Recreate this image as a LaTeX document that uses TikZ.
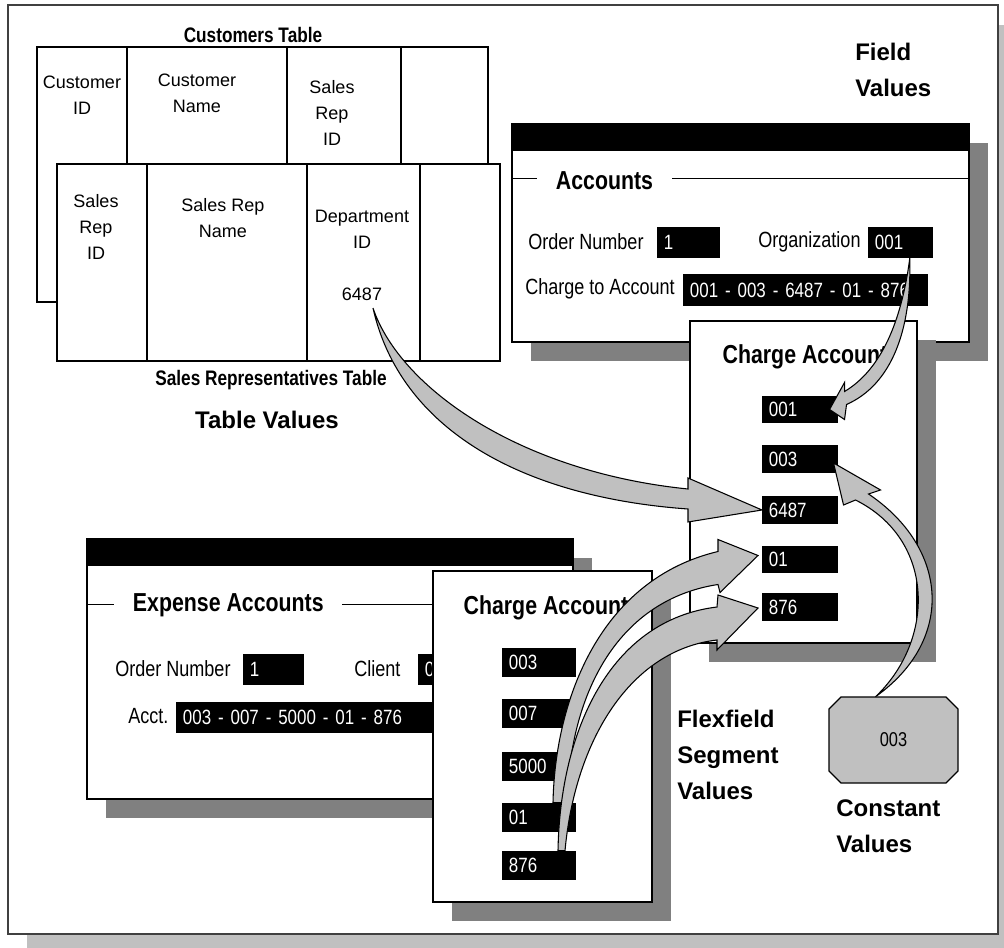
\documentclass[tikz,border=0pt]{standalone}
\usepackage{fontspec}
\setmainfont{Liberation Sans}
\newfontfamily\narrowfont{Liberation Sans}[FakeStretch=0.82]
\usepackage{tikz}
\usetikzlibrary{positioning, calc}
\definecolor{paneshadow}{RGB}{128,128,128}
\definecolor{arrowgray}{RGB}{192,192,192}
\definecolor{frameshadow}{RGB}{192,192,192}
\definecolor{framegray}{RGB}{64,64,64}

\begin{document}
\begin{tikzpicture}[x=0.75pt, y=-0.75pt, line join=miter]
  \tikzset{
    cell/.style={align=center, font=\fontsize{13.5}{19.5}\selectfont},
    tabtitle/.style={font=\narrowfont\bfseries\fontsize{15.75}{19}\selectfont},
    biglabel/.style={align=left, anchor=west, inner sep=0pt,
      font=\bfseries\fontsize{18}{27}\selectfont},
    formtext/.style={anchor=west, inner sep=0pt, font=\narrowfont\fontsize{16.5}{20}\selectfont},
    wintitle/.style={font=\narrowfont\bfseries\fontsize{19.5}{23}\selectfont},
    grouplabel/.style={wintitle, fill=white, inner xsep=14pt, anchor=west},
    fieldbox/.style={fill=black, text=white, anchor=west, align=left,
      inner xsep=5pt, inner ysep=0pt, font=\narrowfont\fontsize{15.5}{19}\selectfont},
    pane/.style={fill=white, draw=black, line width=0.9pt},
    paneshade/.style={fill=paneshadow},
    tabline/.style={draw=black, line width=1pt},
    blockarrow/.style={fill=arrowgray, draw=black, line width=0.8pt}
  }
  \useasboundingbox (0,0) rectangle (1004,948);
  % frame with its shadow
  \fill[frameshadow] (27,25) rectangle (1004,948);
  \draw[draw=framegray, fill=white, line width=1.5pt] (8,5) rectangle (998,934);

  % the two tables
  \draw[tabline] (37,47) rectangle (488,302);
  \foreach \cx in {127,287,401} \draw[tabline] (\cx,47) -- (\cx,164);
  \draw[tabline, fill=white] (57,164) rectangle (500,361);
  \foreach \cx in {147,307,420} \draw[tabline] (\cx,164) -- (\cx,361);
  \node[tabtitle] (custtitle) at (253,35) {Customers Table};
  \node[cell] (custid) at (82,95) {Customer\\ID};
  \node[cell] (custname) at (197,93) {Customer\\Name};
  \node[cell] (custrep) at (332,113) {Sales\\Rep\\ID};
  \node[cell] (repid) at (96,227) {Sales\\Rep\\ID};
  \node[cell] (repname) at (223,218) {Sales Rep\\Name};
  \node[cell] (repdept) at (362,229) {Department\\ID};
  \node[cell] (v6487) at (362,294) {6487};
  \node[tabtitle] (reptitle) at (271,380) {Sales Representatives Table};
  \node[biglabel, anchor=center] (tabvals) at (267,420) {Table Values};

  % Accounts window
  \fill[paneshade] (531,143) rectangle (988,361);
  \draw[pane] (512,124) rectangle (969,342);
  \fill (512,124) rectangle (969,151);
  \draw[line width=0.75pt] (512,179) -- (969,179);
  \node[grouplabel] (acctitle) at (537,181) {Accounts};
  \node[formtext] (ordlbl) at (528,242) {Order Number};
  \node[fieldbox, text width=37.25pt, minimum height=23.25pt] (ordnum) at (657,242.5) {1};
  \node[formtext] (orglbl) at (758,242) {Organization};
  \node[fieldbox, text width=38.75pt, minimum height=23.25pt] (orgval) at (868,242.5) {001};
  \node[formtext] (chglbl) at (525,289) {Charge to Account};
  \node[fieldbox, text width=173.75pt, minimum height=24pt] (chgval) at (683,290) {001 - 003 - 6487 - 01 - 876};

  % Expense Accounts window
  \fill[paneshade] (106,558) rectangle (592,818);
  \draw[pane] (87,539) rectangle (573,799);
  \fill (87,539) rectangle (573,566);
  \draw[line width=0.75pt] (87,605) -- (573,605);
  \node[grouplabel] (exptitle) at (114,605) {Expense Accounts};
  \node[formtext] (eordlbl) at (115,669) {Order Number};
  \node[fieldbox, text width=35.75pt, minimum height=23.25pt] (eordnum) at (243,669.5) {1};
  \node[formtext] (clientlbl) at (354,669) {Client};
  \node[fieldbox, text width=38.75pt, minimum height=23.25pt] (clientval) at (418,669.5) {003};
  \node[formtext] (acctlbl) at (128,716) {Acct.};
  \node[fieldbox, text width=188pt, minimum height=23.25pt] (acctval) at (176,717.5) {003 - 007 - 5000 - 01 - 876};

  % Charge Account, right
  \fill[paneshade] (709,340) rectangle (936,662);
  \draw[pane] (690,321) rectangle (917,643);
  \node[wintitle] (catitle) at (805,357) {Charge Account};
  \foreach \v/\yy in {001/409.5, 003/459, 6487/510, 01/559.5, 876/607}
    \node[fieldbox, text width=47pt, minimum height=20.6pt] (ca\v) at (762,\yy) {\v};

  % Charge Account, bottom
  \fill[paneshade] (452,590) rectangle (671,921);
  \draw[pane] (433,571) rectangle (652,902);
  \node[wintitle] (cbtitle) at (546,608) {Charge Account};
  \foreach \v/\yy in {003/662.5, 007/713.5, 5000/766.5, 01/817.5, 876/865.5}
    \node[fieldbox, text width=45.5pt, minimum height=21.75pt] (cb\v) at (502,\yy) {\v};

  % constant value
  \filldraw[fill=arrowgray, draw=black, line width=0.9pt] (829,709) -- (841,697) -- (946,697)
    -- (958,709) -- (958,771) -- (946,783) -- (841,783) -- (829,771) -- cycle;
  \node[font=\narrowfont\fontsize{15}{18}\selectfont, minimum width=96.75pt,
    minimum height=64.5pt, inner sep=0pt] (cst) at (893.5,740) {003};

  % labels
  \node[biglabel] (fieldvals) at (855,70) {Field\\Values};
  \node[biglabel] (flexvals) at (677,755) {Flexfield\\Segment\\Values};
  \node[biglabel] (constvals) at (836,826) {Constant\\Values};

  % block arrows
  \coordinate (a1s) at ($(v6487.south)+(11,3)$);
  \coordinate (a1e) at (ca6487.west);
  \filldraw[blockarrow] (a1s) .. controls +(27,80) and +(-168,-17) .. ($(a1e)+(-74,-21)$)
    -- ($(a1e)+(-74,-32)$) -- (a1e) -- ($(a1e)+(-74,12)$) -- ($(a1e)+(-74,-1)$)
    .. controls +(-168,-12) and +(27,120) .. (a1s) -- cycle;

  \coordinate (a2s) at ($(orgval.south)+(9,0)$);
  \coordinate (a2e) at ($(ca001.east)+(-9,0)$);
  \filldraw[blockarrow] (a2s) .. controls +(-8,62) and +(37,-22) .. ($(a2e)+(15,-18)$)
    -- ($(a2e)+(15,-27)$) -- (a2e) -- ($(a2e)+(15,10)$) -- ($(a2e)+(17,-5)$)
    .. controls +(45,-20) and +(2,72) .. (a2s) -- cycle;

  \coordinate (a3s) at ($(cst.north)+(-18,0)$);
  \coordinate (a3e) at ($(ca003.east)+(-5,4)$);
  \filldraw[blockarrow] (a3s) .. controls +(80,-57) and +(80,54) .. ($(a3e)+(35,31)$)
    -- ($(a3e)+(47,27)$) -- (a3e) -- ($(a3e)+(10,42)$) -- ($(a3e)+(22,37)$)
    .. controls +(80,40) and +(60,-57) .. (a3s) -- cycle;

  \coordinate (a4s) at ($(cb01.north west)+(51,0)$);
  \coordinate (a4e) at ($(ca01.west)+(-4,-4)$);
  \filldraw[blockarrow] (a4s) .. controls +(2,-103) and +(-118,28) .. ($(a4e)+(-40,-4)$)
    -- ($(a4e)+(-40,-16)$) -- (a4e) -- ($(a4e)+(-38,37)$) -- ($(a4e)+(-40,29)$)
    .. controls +(-98,15) and +(3,-113) .. ($(a4s)+(14,0)$) -- cycle;

  \coordinate (a5s) at ($(cb876.north west)+(56,0)$);
  \coordinate (a5e) at ($(ca876.west)+(-4,1)$);
  \filldraw[blockarrow] (a5s) .. controls +(2,-120) and +(-107,13) .. ($(a5e)+(-41,-1)$)
    -- ($(a5e)+(-40,-13)$) -- (a5e) -- ($(a5e)+(-41,42)$) -- ($(a5e)+(-41,32)$)
    .. controls +(-87,10) and +(10,-110) .. ($(a5s)+(7,0)$) -- cycle;
\end{tikzpicture}
\end{document}
